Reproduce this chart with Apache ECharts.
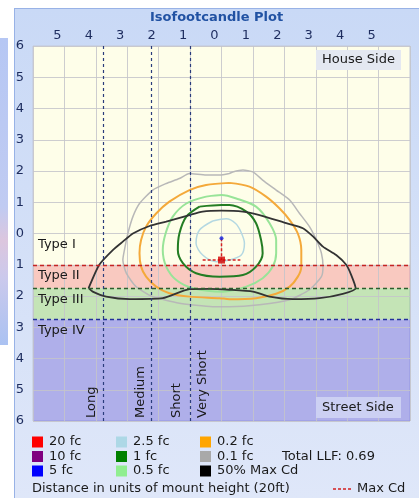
<!DOCTYPE html>
<html>
<head>
<meta charset="utf-8">
<script src="https://cdn.jsdelivr.net/npm/echarts@6/dist/echarts.min.js"></script>
<style>
  html, body { margin: 0; padding: 0; background: #fff; width: 419px; height: 498px; overflow: hidden; }
  /* bit of another window peeking out on the left */
  #strip { position: absolute; left: 0; top: 38px; width: 8px; height: 307px;
    background: linear-gradient(to bottom, #b6c7f4 0%, #c0cbf2 55%, #dcc6de 66%, #cbc9ec 78%, #aac2f2 100%); }
  #panel { position: absolute; left: 14px; top: 8px; width: 404px; height: 489px;
    border: 1px solid #98b2e6; background: linear-gradient(to bottom, #c9d9f6, #dfe7f9); }
  #chart { position: absolute; left: 0; top: 0; width: 419px; height: 498px; }
</style>
</head>
<body>
<div id="strip"></div>
<div id="panel"></div>
<div id="chart"></div>
<script>
// distances in mount heights; y > 0 = house side, y < 0 = street side
const contour50Cd = [[-4.23,-1.75],[-3.89,-1.0],[-3.46,-0.53],[-3.14,-0.26],[-2.82,0],[-2.29,0.24],[-1.76,0.38],[-1.02,0.59],[-0.6,0.7],[0,0.73],[0.68,0.7],[1.21,0.59],[2.06,0.33],[2.59,0.17],[2.92,-0.1],[3.23,-0.42],[3.65,-0.69],[3.97,-1.0],[4.13,-1.33],[4.27,-1.75],[3.86,-1.93],[3.12,-2.07],[2.27,-2.1],[1.53,-2.02],[1.0,-1.86],[0.25,-1.8],[-0.38,-1.77],[-1.02,-1.78],[-1.87,-2.07],[-2.93,-2.1],[-3.67,-2.02],[-4.1,-1.86],[-4.23,-1.75]];
const contour01 = [[0.25,1.92],[0.36,1.97],[0.68,2.03],[1.0,1.97],[1.31,1.71],[1.74,1.39],[2.17,1.07],[2.48,0.65],[2.8,0.22],[3.02,-0.21],[3.18,-0.63],[3.23,-1.06],[3.18,-1.38],[2.8,-1.8],[2.17,-2.12],[1.21,-2.28],[0.25,-2.34],[-0.28,-2.34],[-1.34,-2.23],[-2.19,-2.02],[-2.72,-1.7],[-3.03,-1.27],[-3.14,-0.85],[-3.09,-0.53],[-2.98,0],[-2.82,0.54],[-2.61,0.96],[-2.19,1.39],[-1.76,1.6],[-1.34,1.76],[-1.02,1.92],[-0.49,1.87],[-0.06,1.87],[0.25,1.92]];
const contour02 = [[0.25,1.62],[0.89,1.5],[1.42,1.18],[1.85,0.8],[2.17,0.43],[2.43,0],[2.54,-0.53],[2.54,-1.06],[2.43,-1.38],[2.17,-1.7],[1.74,-1.93],[1.1,-2.07],[0.25,-2.1],[-0.06,-2.07],[-1.02,-2.02],[-1.66,-1.91],[-2.08,-1.7],[-2.4,-1.38],[-2.56,-1.06],[-2.61,-0.63],[-2.56,-0.21],[-2.4,0.22],[-2.08,0.64],[-1.66,1.02],[-1.02,1.39],[-0.49,1.55],[0.25,1.62]];
const contour05 = [[-0.49,1.18],[0,1.23],[0.47,1.12],[1.1,0.86],[1.53,0.33],[1.74,-0.21],[1.74,-0.63],[1.63,-1.06],[1.31,-1.43],[0.79,-1.7],[0.04,-1.86],[-0.91,-1.75],[-1.44,-1.49],[-1.76,-1.06],[-1.87,-0.53],[-1.78,0],[-1.55,0.54],[-1.12,0.96],[-0.49,1.18]];
const contour1 = [[-0.7,0.86],[0,0.91],[0.25,0.91],[0.79,0.7],[1.1,0.33],[1.26,-0.21],[1.31,-0.63],[1.1,-1.06],[0.68,-1.33],[-0.06,-1.38],[-0.81,-1.27],[-1.23,-0.95],[-1.39,-0.53],[-1.34,0],[-1.12,0.54],[-0.7,0.86]];
const contour25 = [[-0.28,0.4],[0.15,0.47],[0.45,0.32],[0.62,0.05],[0.73,-0.31],[0.63,-0.69],[0.25,-0.85],[-0.17,-0.9],[-0.6,-0.69],[-0.81,-0.31],[-0.7,0.11],[-0.28,0.4]];
const contour5 = [[0,-0.15]];
const maxCd = [0,-0.85];

// lateral type boundaries (street side) and longitudinal class boundaries
const typeNames = ['Type I','Type II','Type III','Type IV'];
const typeTops = [0,-1,-1.75,-2.75];
const classBounds = [-3.75,-2.25,-1];
const classNames = ['Long','Medium','Short','Very Short'];
const classLabelX = [-4.12,-2.57,-1.42,-0.59];

const legendLabels = ['20 fc','10 fc','5 fc','2.5 fc','1 fc','0.5 fc','0.2 fc','0.1 fc','50% Max Cd'];
const legendColors = ['#ff0000','#800080','#0000ff','#add8e6','#008000','#90ee90','#ffa500','#a9a9a9','#000000'];
const totalLLF = 0.69;

const FONT = 'DejaVu Sans';
const chart = echarts.init(document.getElementById('chart'));

function contour(data, color, width, smooth) {
  return {
    type: 'line', data: data, symbol: 'none', smooth: smooth, silent: true, z: 3,
    lineStyle: { color: color, width: width }
  };
}

const option = {
  animation: false,
  textStyle: { fontFamily: FONT },
  title: {
    text: 'Isofootcandle Plot', left: 145, top: 6,
    textStyle: { fontSize: 13, fontWeight: 'bold', color: '#2152a3', fontFamily: FONT }
  },
  grid: {
    left: 33, right: 9, top: 46, bottom: 77, show: true, z: 0,
    backgroundColor: '#fefee9', borderColor: '#c2c8d8', borderWidth: 1
  },
  xAxis: {
    type: 'value', position: 'top', min: -6, max: 6, interval: 1, z: 2,
    axisLine: { show: false }, axisTick: { show: false },
    axisLabel: {
      formatter: v => Math.abs(v), showMinLabel: false, showMaxLabel: false,
      color: '#1d2c5e', fontSize: 13, margin: 4, padding: [0, 14, 0, 0]
    },
    splitLine: { lineStyle: { color: 'rgba(196,196,202,0.85)' } }
  },
  yAxis: {
    type: 'value', min: -6, max: 6, interval: 1, z: 2,
    axisLine: { show: false }, axisTick: { show: false },
    axisLabel: { formatter: v => Math.abs(v), color: '#1d2c5e', fontSize: 13, margin: 9 },
    splitLine: { lineStyle: { color: 'rgba(196,196,202,0.85)' } }
  },
  series: [
    {
      // type bands
      type: 'line', data: [], z: 1, silent: true,
      markArea: {
        silent: true,
        data: [
          [{ yAxis: typeTops[1], itemStyle: { color: 'rgba(240,80,100,0.3)' } }, { yAxis: typeTops[2] }],
          [{ yAxis: typeTops[2], itemStyle: { color: 'rgba(90,180,90,0.35)' } }, { yAxis: typeTops[3] }],
          [{ yAxis: typeTops[3], itemStyle: { color: 'rgba(110,110,235,0.55)' } }, { yAxis: -6 }]
        ]
      }
    },
    contour(contour01, '#b8b8b8', 1.5, 0.2),
    contour(contour02, '#f4a93a', 2, 0.3),
    contour(contour05, '#98e498', 2, 0.3),
    contour(contour1, '#237d23', 2, 0.3),
    contour(contour25, '#b4d8e2', 1.5, 0.3),
    contour(contour50Cd, '#333333', 1.8, 0.2),
    {
      // boundary lines
      type: 'line', data: [], z: 4, silent: true,
      markLine: {
        silent: true, symbol: 'none', label: { show: false },
        lineStyle: { type: [4, 3], width: 1.3 },
        data: [
          { yAxis: typeTops[1], lineStyle: { color: '#c42424' } },
          { yAxis: typeTops[2], lineStyle: { color: '#2d5e2d' } },
          { yAxis: typeTops[3], lineStyle: { color: '#22309a' } }
        ].concat(classBounds.map(b => ({ xAxis: b, lineStyle: { color: '#2a3c7c', type: [3, 3], width: 1.2 } })))
      }
    },
    {
      type: 'line', data: [[-0.6, maxCd[1]], [0.6, maxCd[1]]], symbol: 'none', z: 5, silent: true,
      lineStyle: { color: '#d42020', width: 1.5, type: [3, 2] }
    },
    {
      type: 'line', data: [contour5[0], maxCd], symbol: 'none', z: 5, silent: true,
      lineStyle: { color: '#d42020', width: 1.5, type: [3, 2] }
    },
    { type: 'scatter', data: [maxCd], symbol: 'rect', symbolSize: 7, z: 6, silent: true, itemStyle: { color: '#d40000' } },
    { type: 'scatter', data: contour5, symbol: 'circle', symbolSize: 4, z: 6, silent: true, itemStyle: { color: '#1020e0' } }
  ]
};

chart.setOption(option);

// text placed from the axes
const toPx = (x, y) => chart.convertToPixel({ gridIndex: 0 }, [x, y]);
const topLeft = toPx(-6, 6), botRight = toPx(6, -6);
const graphics = [];
const txt = (text, x, y, extra) => Object.assign({
  type: 'text', x: x, y: y, z: 10, silent: true,
  style: { text: text, font: '13px "' + FONT + '"', fill: '#1a1a1a', align: 'left', verticalAlign: 'middle' }
}, extra || {});

typeNames.forEach((n, i) => graphics.push(txt(n, topLeft[0] + 5, toPx(0, typeTops[i])[1] + 11)));
classNames.forEach((n, i) => graphics.push(txt(n, toPx(classLabelX[i], 0)[0], botRight[1] - 3, { rotation: Math.PI / 2 })));

graphics.push({ type: 'rect', z: 9, silent: true, shape: { x: botRight[0] - 94, y: topLeft[1] + 4, width: 85, height: 20 }, style: { fill: '#e4e8f1' } });
graphics.push(txt('House Side', botRight[0] - 88, topLeft[1] + 14));
graphics.push({ type: 'rect', z: 9, silent: true, shape: { x: botRight[0] - 94, y: botRight[1] - 24, width: 85, height: 21 }, style: { fill: '#ccd0f3' } });
graphics.push(txt('Street Side', botRight[0] - 88, botRight[1] - 13));

// legend
const colX = [32, 116, 200], rowY = [442, 456.5, 471];
legendLabels.forEach((l, i) => {
  const c = Math.floor(i / 3), r = i % 3;
  graphics.push({ type: 'rect', z: 10, silent: true, shape: { x: colX[c], y: rowY[r] - 5.5, width: 11, height: 11 }, style: { fill: legendColors[i] } });
  graphics.push(txt(l, colX[c] + 17, rowY[r]));
});
graphics.push(txt('Total LLF: ' + totalLLF.toFixed(2), 282, rowY[1]));
graphics.push(txt('Distance in units of mount height (20ft)', 32, 488.5));
graphics.push({ type: 'line', z: 10, silent: true, shape: { x1: 333, y1: 489, x2: 351, y2: 489 }, style: { stroke: '#d42020', lineWidth: 1.5, lineDash: [3, 2] } });
graphics.push(txt('Max Cd', 357, 488.5));

chart.setOption({ graphic: graphics });
</script>
</body>
</html>
